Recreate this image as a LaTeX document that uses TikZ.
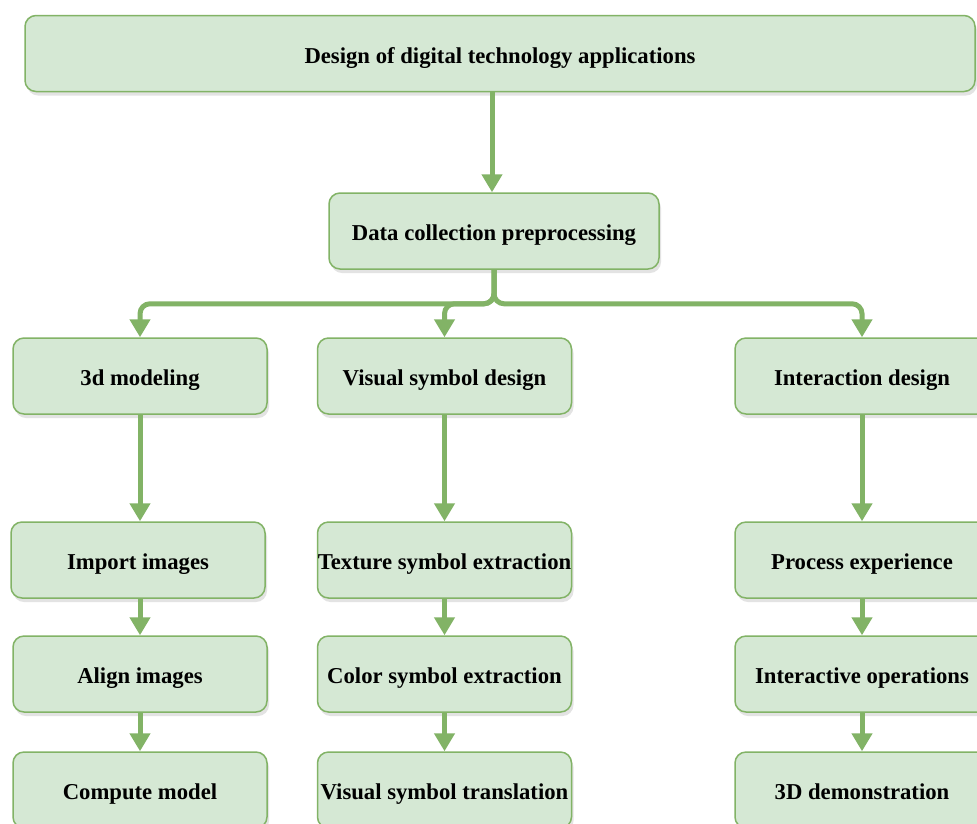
\documentclass[tikz,border=0pt]{standalone}
\usepackage{fontspec}
\setmainfont{Liberation Serif}
\usetikzlibrary{arrows.meta,shadows,calc}
\definecolor{boxfill}{HTML}{D5E8D4}
\definecolor{boxline}{HTML}{82B366}
\tikzset{
  % fixed text height/depth puts every baseline the same distance below the box centre
  box/.style={draw=boxline, fill=boxfill, line width=1.5pt, rounded corners=11pt,
    minimum height=76pt, inner sep=0pt, align=center,
    text height=19pt, text depth=0pt,
    font=\fontsize{22.7}{27}\selectfont\bfseries,
    drop shadow={opacity=0.22, shadow xshift=2pt, shadow yshift=-4pt}},
  wide/.style={box, minimum width=950pt},
  mid/.style={box, minimum width=330pt},
  col/.style={box, minimum width=254pt},
  conn/.style={draw=boxline, line width=5pt, rounded corners=10pt,
    -{Triangle[length=18pt,width=20pt]}}
}
\begin{document}
\begin{tikzpicture}[x=1pt,y=-1pt]
\useasboundingbox (0,0) rectangle (977,823);
\fill[white] (0,0) rectangle (977,823);

% top level
\node[wide] (top) at (500,53.5) {Design of digital technology applications};
\node[mid]  (dc)  at (494,231) {Data collection preprocessing};

% second level
\node[col] (m3d) at (140,376) {3d modeling};
\node[col] (vsd) at (444.5,376) {Visual symbol design};
\node[col] (ixd) at (862,376) {Interaction design};

% left column
\node[col] (imp) at (138,560) {Import images};
\node[col] (ali) at (140,674) {Align images};
\node[col] (cmp) at (140,790) {Compute model};

% middle column
\node[col] (tex) at (444.5,560) {Texture symbol extraction};
\node[col] (clr) at (444.5,674) {Color symbol extraction};
\node[col] (vst) at (444.5,790) {Visual symbol translation};

% right column
\node[col] (prc) at (862,560) {Process experience};
\node[col] (iop) at (862,674) {Interactive operations};
\node[col] (d3d) at (862,790) {3D demonstration};

% connectors
\coordinate (topout) at ($(dc.north)+(-2,-101)$);
\draw[conn] (topout) -- (topout |- dc.north);
\coordinate (fork) at ($(dc.south)+(0,34)$);
\draw[conn] (dc.south) -- (fork) -| (m3d.north);
\draw[conn] (dc.south) -- (fork) -| (vsd.north);
\draw[conn] (dc.south) -- (fork) -| (ixd.north);

\draw[conn] (m3d.south) -- (m3d.south |- imp.north);
\draw[conn] (imp.south -| ali.north) -- (ali.north);
\draw[conn] (ali.south) -- (cmp.north);

\draw[conn] (vsd.south) -- (tex.north);
\draw[conn] (tex.south) -- (clr.north);
\draw[conn] (clr.south) -- (vst.north);

\draw[conn] (ixd.south) -- (prc.north);
\draw[conn] (prc.south) -- (iop.north);
\draw[conn] (iop.south) -- (d3d.north);
\end{tikzpicture}
\end{document}
